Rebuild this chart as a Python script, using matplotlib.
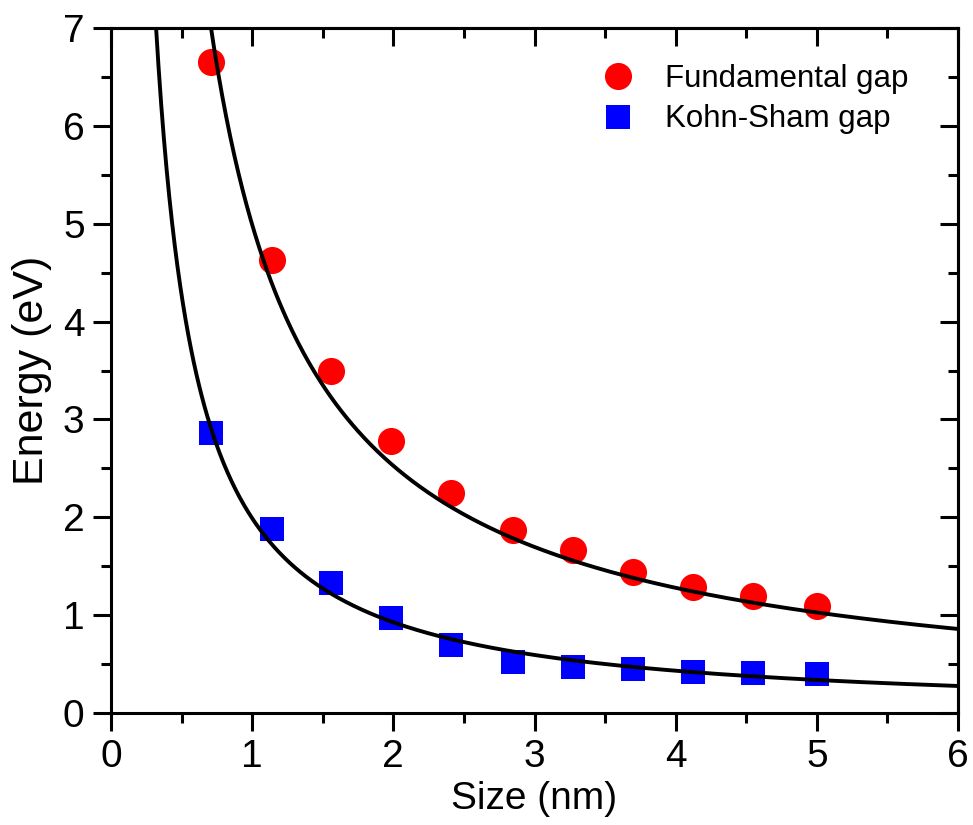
import numpy as np
import matplotlib
matplotlib.use("Agg")
import matplotlib.pyplot as plt
from matplotlib.ticker import MultipleLocator

plt.rcParams['font.family'] = ['Liberation Sans', 'DejaVu Sans']

# cluster size (nm)
size_nm = [0.71, 1.14, 1.56, 1.98, 2.41, 2.85, 3.27, 3.70, 4.12, 4.55, 5.00]
# fundamental gap (eV)
fund_gap = [6.65, 4.63, 3.49, 2.78, 2.25, 1.87, 1.67, 1.44, 1.29, 1.20, 1.09]
# Kohn-Sham gap (eV)
ks_gap = [2.86, 1.88, 1.33, 0.97, 0.70, 0.52, 0.47, 0.45, 0.42, 0.41, 0.40]

# power-law fits E = a / d^b
fund_fit = (4.99, 0.982)
ks_fit = (1.99, 1.102)

fig = plt.figure(figsize=(9.73, 8.25), dpi=100)
ax = fig.add_axes([111/973, 1-713/825, (958-111)/973, (713-28)/825])

d = np.linspace(0.25, 6.0, 600)
ax.plot(d, fund_fit[0] / d**fund_fit[1], color='black', lw=2.8, zorder=3)
ax.plot(d, ks_fit[0] / d**ks_fit[1], color='black', lw=2.8, zorder=3)

ax.plot(size_nm, fund_gap, 'o', color='#ff0000', ms=19.5, mew=0,
        label='Fundamental gap', zorder=2)
ax.plot(size_nm, ks_gap, 's', color='#0000ff', ms=17.5, mew=0,
        label='Kohn-Sham gap', zorder=2)

ax.set_xlim(0, 6)
ax.set_ylim(0, 7)
ax.xaxis.set_major_locator(MultipleLocator(1))
ax.xaxis.set_minor_locator(MultipleLocator(0.5))
ax.yaxis.set_major_locator(MultipleLocator(1))
ax.yaxis.set_minor_locator(MultipleLocator(0.5))

for s in ax.spines.values():
    s.set_linewidth(2.2)

ax.tick_params(which='major', direction='out', length=13, width=2.2,
               labelsize=28, pad=6)
ax.tick_params(which='minor', direction='out', length=7, width=2.2)

# inward mirror ticks on top and right
top = ax.secondary_xaxis('top')
top.xaxis.set_major_locator(MultipleLocator(1))
top.xaxis.set_minor_locator(MultipleLocator(0.5))
top.tick_params(which='major', direction='in', length=13, width=2.2, labeltop=False)
top.tick_params(which='minor', direction='in', length=7, width=2.2)
right = ax.secondary_yaxis('right')
right.yaxis.set_major_locator(MultipleLocator(1))
right.yaxis.set_minor_locator(MultipleLocator(0.5))
right.tick_params(which='major', direction='in', length=13, width=2.2, labelright=False)
right.tick_params(which='minor', direction='in', length=7, width=2.2)
for sec in (top, right):
    for s in sec.spines.values():
        s.set_linewidth(2.2)

ax.set_xlabel('Size (nm)', fontsize=28, labelpad=4)
ax.set_ylabel('Energy (eV)', fontsize=31, labelpad=8)

ax.legend(loc='upper left', bbox_to_anchor=(574/973, 1-51/825),
          bbox_transform=fig.transFigure, frameon=False, fontsize=22.5,
          borderaxespad=0, borderpad=0.4, handlelength=2.0,
          handletextpad=0.5, labelspacing=0.35)

fig.savefig('out.png', dpi=100)
